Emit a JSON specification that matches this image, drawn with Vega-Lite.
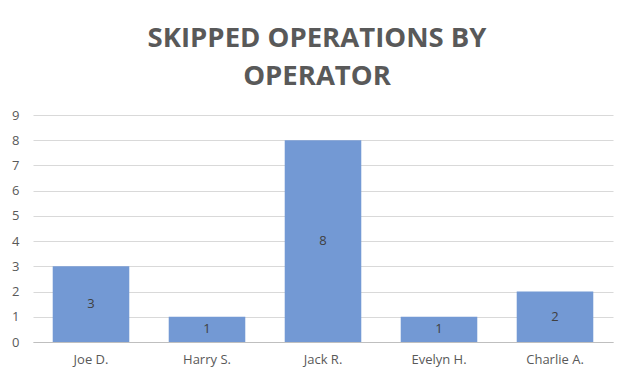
{
  "$schema": "https://vega.github.io/schema/vega-lite/v6.json",
  "width": 580,
  "height": 227,
  "autosize": {"type": "none"},
  "padding": {"left": 33, "top": 115, "right": 16, "bottom": 39},
  "background": "white",
  "title": {
    "text": ["SKIPPED OPERATIONS BY", "OPERATOR"],
    "font": "Open Sans",
    "fontSize": 27.5,
    "fontWeight": "bold",
    "color": "#595959",
    "anchor": "middle",
    "dx": -6,
    "offset": 19,
    "lineHeight": 38
  },
  "data": {
    "values": [
      {"operator": "Joe D.", "count": 3},
      {"operator": "Harry S.", "count": 1},
      {"operator": "Jack R.", "count": 8},
      {"operator": "Evelyn H.", "count": 1},
      {"operator": "Charlie A.", "count": 2}
    ]
  },
  "transform": [{"calculate": "datum.count / 2", "as": "labelPos"}],
  "config": {
    "view": {"stroke": null},
    "font": "Open Sans",
    "axisY": {
      "labelFontSize": 13,
      "labelColor": "#595959",
      "labelPadding": 14,
      "ticks": false,
      "domain": false,
      "gridColor": "#d9d9d9",
      "gridWidth": 1
    }
  },
  "encoding": {
    "x": {
      "field": "operator",
      "type": "nominal",
      "sort": null,
      "scale": {"paddingInner": 0.34, "paddingOuter": 0.17},
      "axis": {
        "title": null,
        "labelAngle": 0,
        "labelFontSize": 13,
        "labelColor": "#595959",
        "labelPadding": 11,
        "ticks": false,
        "domainColor": "#bfbfbf",
        "domainWidth": 1
      }
    }
  },
  "layer": [
    {
      "mark": {"type": "bar", "color": "#7399d4"},
      "encoding": {
        "y": {
          "field": "count",
          "type": "quantitative",
          "scale": {"domain": [0, 9]},
          "axis": {"title": null, "values": [0, 1, 2, 3, 4, 5, 6, 7, 8, 9]}
        }
      }
    },
    {
      "mark": {"type": "text", "color": "#404040", "fontSize": 13, "baseline": "middle"},
      "encoding": {
        "y": {
          "field": "labelPos",
          "type": "quantitative",
          "axis": {"title": null, "values": [0, 1, 2, 3, 4, 5, 6, 7, 8, 9]}
        },
        "text": {"field": "count", "type": "quantitative"}
      }
    }
  ]
}
